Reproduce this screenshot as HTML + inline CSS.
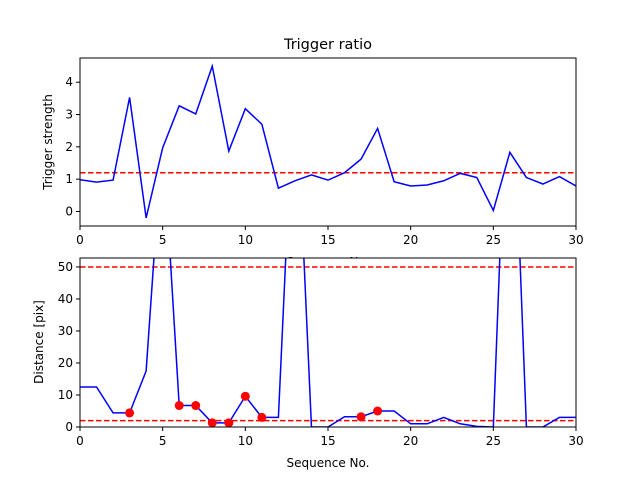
<!DOCTYPE html>
<html><head><meta charset="utf-8"><style>
body{margin:0;background:#fff;}
svg text{font-family:"DejaVu Sans","Liberation Sans",sans-serif;fill:#000;}
</style></head><body>
<svg id="c" width="640" height="480" xmlns="http://www.w3.org/2000/svg"></svg>
<script>
const seqX = Array.from({length:31},(_,i)=>i);
const triggerStrength = [0.98,0.91,0.97,3.53,-0.2,1.97,3.27,3.02,4.5,1.87,3.18,2.7,0.72,0.95,1.13,0.97,1.2,1.62,2.57,0.92,0.79,0.82,0.95,1.18,1.05,0.03,1.83,1.05,0.85,1.08,0.79];
const triggerThreshold = 1.2;
const distance = [12.5,12.5,4.4,4.4,17.5,92,6.7,6.7,1.3,1.3,9.6,3,3,115,0,0,3.2,3.2,5,5,1,1,3,1,0.2,0,135,0,0,3,3];
const markedIdx = [3,6,7,8,9,10,11,17,18];
const distThresholds = [50,2];
const xTicks = [0,5,10,15,20,25,30];
const yTicksTop = [0,1,2,3,4];
const yTicksBot = [0,10,20,30,40,50];

const NS="http://www.w3.org/2000/svg";
const svg=document.getElementById('c');
function el(t,a,p){const e=document.createElementNS(NS,t);for(const k in a)e.setAttribute(k,a[k]);(p||svg).appendChild(e);return e;}
const L=80,R=576;
const xs=v=>L+(v-0)/30*(R-L);

function panel(top,bot,ymin,ymax,yt,name){
  const ys=v=>bot-(v-ymin)/(ymax-ymin)*(bot-top);
  const g=el('g',{});
  
  
  const cid='clip'+name;
  const cp=el('clipPath',{id:cid},g);el('rect',{x:L,y:top,width:R-L,height:bot-top},cp);
  const plot=el('g',{'clip-path':'url(#'+cid+')'},g);
  return {g,plot,ys,top,bot};
}
function axes(p,yt,name){
  const {g,ys,top,bot}=p;
  const frame=el('rect',{x:L,y:top,width:R-L,height:bot-top,fill:'none',stroke:'#000','stroke-width':1},g);
  
  xTicks.forEach(t=>{const x=xs(t);el('line',{x1:x,x2:x,y1:bot,y2:bot+4,stroke:'#000'},g);
    const tx=el('text',{x:x,y:bot+18,'font-size':12,'text-anchor':'middle'},g);tx.textContent=t;
    });
  yt.forEach(t=>{const y=ys(t);el('line',{x1:L-4,x2:L,y1:y,y2:y,stroke:'#000'},g);
    const tx=el('text',{x:L-7,y:y+4,'font-size':12,'text-anchor':'end'},g);tx.textContent=t;
    });
}

// top panel
const p1=panel(58,226,-0.45,4.75,yTicksTop,'trigger-panel');
const hl1=el('line',{x1:L,x2:R,y1:p1.ys(triggerThreshold),y2:p1.ys(triggerThreshold),stroke:'red','stroke-width':1.5,'stroke-dasharray':'5.5,2.5'},p1.plot);

const l1=el('polyline',{points:triggerStrength.map((v,i)=>xs(seqX[i])+','+p1.ys(v)).join(' '),fill:'none',stroke:'blue','stroke-width':1.5},p1.plot);

axes(p1,yTicksTop,'trigger');

// hidden x label of top panel (drawn before bottom panel so it is covered)
const xl1=el('text',{x:328,y:266,'font-size':12,'text-anchor':'middle'});xl1.textContent='Sequence No.';


// bottom panel
const bg=el('rect',{x:L,y:258,width:R-L,height:169,fill:'#fff'});
const p2=panel(258,427,0,52.8,yTicksBot,'distance-panel');
distThresholds.forEach(t=>{const h=el('line',{x1:L,x2:R,y1:p2.ys(t),y2:p2.ys(t),stroke:'red','stroke-width':1.5,'stroke-dasharray':'5.5,2.5'},p2.plot);
  });
const l2=el('polyline',{points:distance.map((v,i)=>xs(seqX[i])+','+p2.ys(v)).join(' '),fill:'none',stroke:'blue','stroke-width':1.5},p2.plot);

markedIdx.forEach(i=>{const c=el('circle',{cx:xs(seqX[i]),cy:p2.ys(distance[i]),r:4.5,fill:'red'},p2.g);
  });
axes(p2,yTicksBot,'distance');

const t=el('text',{x:328,y:49,'font-size':14.5,'text-anchor':'middle'});t.textContent='Trigger ratio';

const y1=el('text',{x:0,y:0,'font-size':12,'text-anchor':'middle',transform:'translate(52,142) rotate(-90)'});y1.textContent='Trigger strength';

const y2=el('text',{x:0,y:0,'font-size':12,'text-anchor':'middle',transform:'translate(43,342) rotate(-90)'});y2.textContent='Distance [pix]';

const xl2=el('text',{x:328,y:467,'font-size':12,'text-anchor':'middle'});xl2.textContent='Sequence No.';

</script>
</body></html>
